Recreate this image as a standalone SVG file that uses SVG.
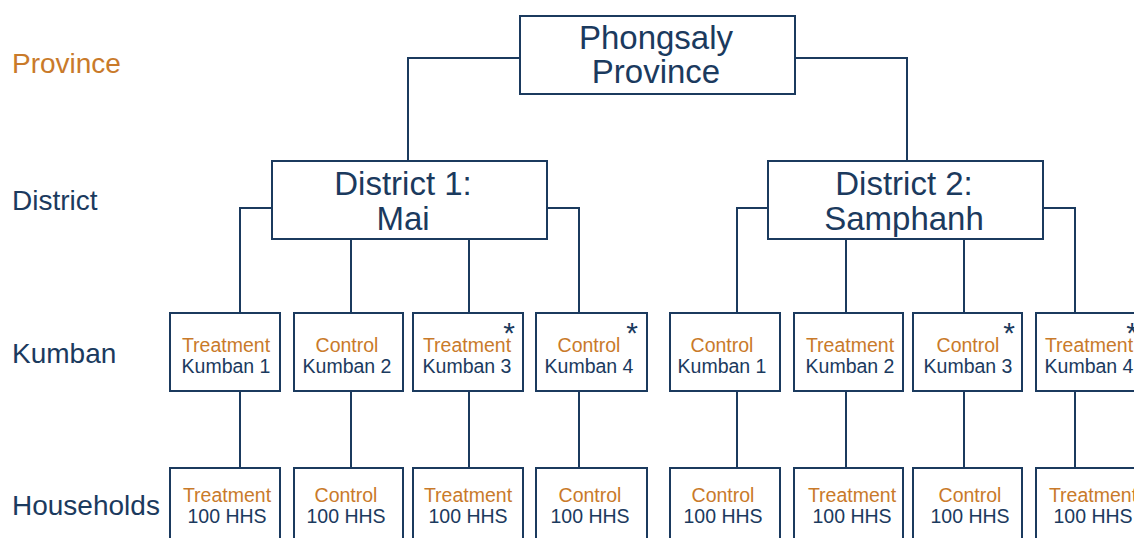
<svg xmlns="http://www.w3.org/2000/svg" width="1134" height="538" viewBox="0 0 1134 538">
<style>
.box{fill:#ffffff;stroke:#1b3a5e;stroke-width:2}
.ln{fill:none;stroke:#1b3a5e;stroke-width:2}
text{font-family:"Liberation Sans",Arial,sans-serif}
.big{font-size:33px;fill:#1b3a5e;text-anchor:middle}
.lvl{font-size:28px;fill:#1b3a5e}
.sm{font-size:19.5px;text-anchor:middle;fill:#1b3a5e}
.ast{font-size:30px;fill:#1b3a5e;text-anchor:middle}
.or{fill:#c97a2a}
</style>
<rect width="1134" height="538" fill="#ffffff"/>
<g id="levels">
<text class="lvl or" x="12" y="73">Province</text>
<text class="lvl" x="12" y="210">District</text>
<text class="lvl" x="12" y="363">Kumban</text>
<text class="lvl" x="12" y="515">Households</text>
</g>
<g id="connectors">
<path class="ln" d="M520 58 H408 V161"/>
<path class="ln" d="M795 58 H907 V161"/>
<path class="ln" d="M272 208 H240 V313"/>
<path class="ln" d="M351 239 V313"/>
<path class="ln" d="M469 239 V313"/>
<path class="ln" d="M547 208 H579 V313"/>
<path class="ln" d="M768 208 H737 V313"/>
<path class="ln" d="M846 239 V313"/>
<path class="ln" d="M964 239 V313"/>
<path class="ln" d="M1043 208 H1075 V313"/>
<path class="ln" d="M240 391 V468 M351 391 V468 M469 391 V468 M579 391 V468 M737 391 V468 M846 391 V468 M964 391 V468 M1075 391 V468"/>
</g>
<g id="province">
<rect class="box" x="520" y="16" width="275" height="78"/>
<text class="big" x="656" y="49">Phongsaly</text>
<text class="big" x="656" y="83">Province</text>
</g>
<g id="district1">
<rect class="box" x="272" y="161" width="275" height="78"/>
<text class="big" x="403" y="195">District 1:</text>
<text class="big" x="403" y="230">Mai</text>
</g>
<g id="district2">
<rect class="box" x="768" y="161" width="275" height="78"/>
<text class="big" x="904" y="195">District 2:</text>
<text class="big" x="904" y="230">Samphanh</text>
</g>
<g id="d1k1"><rect class="box" x="170" y="313" width="110" height="78"/><text class="sm or" x="226" y="352">Treatment</text><text class="sm" x="226" y="373">Kumban 1</text></g>
<g id="d1k2"><rect class="box" x="294" y="313" width="109" height="78"/><text class="sm or" x="347" y="352">Control</text><text class="sm" x="347" y="373">Kumban 2</text></g>
<g id="d1k3"><rect class="box" x="413" y="313" width="110" height="78"/><text class="sm or" x="467" y="352">Treatment</text><text class="sm" x="467" y="373">Kumban 3</text><text class="ast" x="509" y="343">*</text></g>
<g id="d1k4"><rect class="box" x="536" y="313" width="111" height="78"/><text class="sm or" x="589" y="352">Control</text><text class="sm" x="589" y="373">Kumban 4</text><text class="ast" x="632" y="343">*</text></g>
<g id="d2k1"><rect class="box" x="670" y="313" width="110" height="78"/><text class="sm or" x="722" y="352">Control</text><text class="sm" x="722" y="373">Kumban 1</text></g>
<g id="d2k2"><rect class="box" x="794" y="313" width="109" height="78"/><text class="sm or" x="850" y="352">Treatment</text><text class="sm" x="850" y="373">Kumban 2</text></g>
<g id="d2k3"><rect class="box" x="913" y="313" width="109" height="78"/><text class="sm or" x="968" y="352">Control</text><text class="sm" x="968" y="373">Kumban 3</text><text class="ast" x="1009" y="343">*</text></g>
<g id="d2k4"><rect class="box" x="1036" y="313" width="110" height="78"/><text class="sm or" x="1089" y="352">Treatment</text><text class="sm" x="1089" y="373">Kumban 4</text><text class="ast" x="1132" y="343">*</text></g>
<g id="d1h1"><rect class="box" x="170" y="468" width="110" height="80"/><text class="sm or" x="227" y="502">Treatment</text><text class="sm" x="227" y="523">100 HHS</text></g>
<g id="d1h2"><rect class="box" x="294" y="468" width="109" height="80"/><text class="sm or" x="346" y="502">Control</text><text class="sm" x="346" y="523">100 HHS</text></g>
<g id="d1h3"><rect class="box" x="413" y="468" width="110" height="80"/><text class="sm or" x="468" y="502">Treatment</text><text class="sm" x="468" y="523">100 HHS</text></g>
<g id="d1h4"><rect class="box" x="536" y="468" width="111" height="80"/><text class="sm or" x="590" y="502">Control</text><text class="sm" x="590" y="523">100 HHS</text></g>
<g id="d2h1"><rect class="box" x="670" y="468" width="110" height="80"/><text class="sm or" x="723" y="502">Control</text><text class="sm" x="723" y="523">100 HHS</text></g>
<g id="d2h2"><rect class="box" x="794" y="468" width="109" height="80"/><text class="sm or" x="852" y="502">Treatment</text><text class="sm" x="852" y="523">100 HHS</text></g>
<g id="d2h3"><rect class="box" x="913" y="468" width="109" height="80"/><text class="sm or" x="970" y="502">Control</text><text class="sm" x="970" y="523">100 HHS</text></g>
<g id="d2h4"><rect class="box" x="1036" y="468" width="110" height="80"/><text class="sm or" x="1093" y="502">Treatment</text><text class="sm" x="1093" y="523">100 HHS</text></g>
</svg>
